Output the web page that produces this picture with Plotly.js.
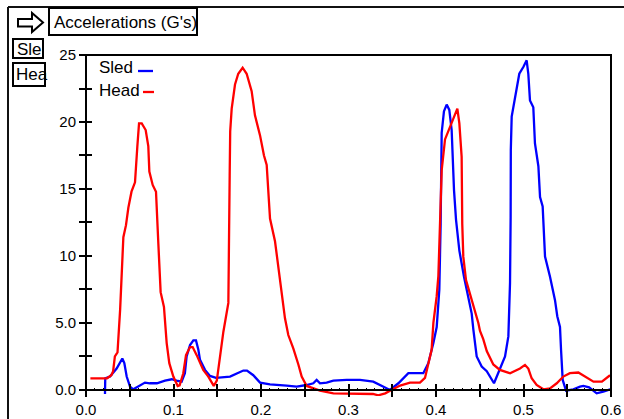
<!DOCTYPE html>
<html>
<head>
<meta charset="utf-8">
<script src="https://cdn.plot.ly/plotly-3.0.1.min.js"></script>
<style>html,body{margin:0;padding:0;background:#fff;}#chart{width:624px;height:419px;}</style>
</head>
<body>
<div id="chart"></div>
<script>
// ---- data ----
var headT = [0.005,0.024,0.029,0.031,0.033,0.036,0.039,0.0415,0.0427,0.0457,0.0484,0.052,0.056,0.0587,0.0606,0.0637,0.0682,0.0712,0.0724,0.0762,0.080,0.0827,0.0853,0.0891,0.0922,0.0952,0.0998,0.1048,0.107,0.1112,0.1143,0.1189,0.1219,0.1265,0.134,0.1398,0.146,0.1495,0.153,0.157,0.1627,0.1633,0.1638,0.1642,0.1648,0.1665,0.1703,0.174,0.179,0.1836,0.1893,0.1931,0.1989,0.2034,0.2065,0.2083,0.2103,0.216,0.2217,0.2274,0.2312,0.2369,0.2427,0.2465,0.2522,0.2674,0.2827,0.309,0.328,0.334,0.342,0.349,0.359,0.3703,0.3817,0.3874,0.391,0.395,0.397,0.4008,0.4027,0.4046,0.4065,0.4103,0.416,0.4217,0.4244,0.4267,0.4293,0.430,0.4312,0.4343,0.4389,0.4446,0.4484,0.4503,0.454,0.458,0.4655,0.473,0.4846,0.496,0.5017,0.5055,0.5093,0.515,0.5227,0.5303,0.538,0.5455,0.553,0.5627,0.5703,0.58,0.5896,0.5989];
var headG = [0.87,0.87,1.1,1.4,2.5,2.8,6.0,9.7,11.4,12.3,13.6,14.8,15.5,18.2,19.9,19.9,19.4,18.2,16.3,15.3,14.8,10.9,7.3,6.2,3.5,2.0,1.0,0.3,0.35,1.25,2.6,3.2,3.2,2.6,1.5,1.0,0.3,0.7,2.6,4.35,6.5,9.0,12.5,16.0,19.3,21.0,22.8,23.6,24.05,23.6,22.3,20.5,19.0,17.5,16.8,15.05,12.8,11.1,8.1,5.35,4.1,3.1,1.9,1.0,0.3,-0.05,-0.25,-0.3,-0.3,-0.4,-0.25,0.0,0.33,0.55,0.55,0.9,1.9,3.0,5.0,7.0,8.5,12.4,16.4,18.7,19.65,20.5,21.0,19.9,17.4,12.4,9.95,8.2,7.2,6.0,5.0,4.4,3.8,2.9,1.9,1.5,1.25,1.6,1.87,1.6,0.87,0.37,0.05,0.12,0.5,1.0,1.25,1.3,1.0,0.62,0.62,1.1];

var sledT = [0.0217,0.022,0.0274,0.035,0.0415,0.0438,0.0465,0.0503,0.054,0.0598,0.0674,0.073,0.081,0.0903,0.098,0.1036,0.1093,0.113,0.115,0.1189,0.1227,0.1257,0.1284,0.1303,0.136,0.1417,0.1486,0.1646,0.1798,0.184,0.1912,0.1989,0.2103,0.2293,0.2408,0.2522,0.2598,0.2636,0.2674,0.275,0.2827,0.2979,0.3131,0.3283,0.3398,0.3474,0.357,0.3627,0.3684,0.3855,0.3912,0.397,0.4008,0.4038,0.4053,0.4065,0.4091,0.4122,0.4152,0.4179,0.4206,0.4229,0.4267,0.432,0.437,0.4408,0.4427,0.4465,0.4522,0.458,0.4663,0.473,0.4789,0.4827,0.4846,0.4853,0.4855,0.4865,0.4903,0.4952,0.4998,0.5036,0.5055,0.5074,0.5112,0.5131,0.517,0.5189,0.5219,0.5246,0.5303,0.536,0.5386,0.5417,0.5429,0.5448,0.5486,0.557,0.5646,0.5684,0.575,0.5836,0.5912,0.5989,0.606];
var sledG = [-0.3,0.87,1.0,1.6,2.35,2.0,1.0,0.25,0.05,0.25,0.55,0.5,0.5,0.7,0.8,0.7,0.62,1.25,2.5,3.35,3.7,3.7,3.0,2.25,1.5,1.05,0.9,1.0,1.45,1.45,1.1,0.55,0.42,0.33,0.25,0.37,0.5,0.75,0.5,0.55,0.7,0.75,0.75,0.62,0.25,0.0,0.5,0.87,1.25,1.25,2.0,3.5,4.7,7.5,12.4,19.2,20.8,21.3,20.9,19.4,14.9,12.7,10.4,8.45,7.0,5.7,4.5,2.5,1.75,1.4,0.5,1.5,2.5,4.0,8.0,12.9,17.9,20.4,21.9,23.6,24.1,24.6,23.6,21.6,21.1,18.4,16.7,14.4,13.7,9.95,8.45,6.7,5.5,4.7,3.0,0.75,-0.05,0.05,0.25,0.3,0.2,-0.25,-0.12,0.05,0.12];

var xTickVals = [0,0.1,0.2,0.3,0.4,0.5,0.6];
var xTickText = ["0.0","0.1","0.2","0.3","0.4","0.5","0.6"];
var yTickVals = [0,5,10,15,20,25];
var yTickText = ["0.0","5.0","10","15","20","25"];
var seriesNames = ["Sled","Head"];
var chartTitle = "Accelerations (G's)";
var sideLabels = ["Sle","Hea"];

// ---- geometry helpers (pixel -> paper) ----
var L = 86, R = 13, T = 55, B = 23, W = 624, H = 419;
var PW = W - L - R, PH = H - T - B;
function X(px){ return (px - L) / PW; }
function Y(py){ return (H - B - py) / PH; }
var yMin = -0.45, yMax = 25;
var zeroPos = (0 - yMin) / (yMax - yMin);

var FONT = "Liberation Sans, Arial, sans-serif";
var BLUE = '#0000ff', RED = '#ff0000';

var traces = [
  {x: sledT, y: sledG, type: 'scatter', mode: 'lines', name: seriesNames[0],
   line: {color: BLUE, width: 2.3}},
  {x: headT, y: headG, type: 'scatter', mode: 'lines', name: seriesNames[1],
   line: {color: RED, width: 2.3}},
  {x: [], y: [], xaxis: 'x2', yaxis: 'y2', type: 'scatter', mode: 'lines',
   showlegend: false, hoverinfo: 'skip'}
];

var tickCommon = {tickcolor: '#000', tickwidth: 2, showgrid: false, zeroline: false, showline: false};

var layout = {
  width: W, height: H,
  margin: {l: L, r: R, t: T, b: B, pad: 0},
  paper_bgcolor: '#fff', plot_bgcolor: '#fff',
  showlegend: false,
  font: {family: FONT, size: 15, color: '#000'},
  xaxis: Object.assign({}, tickCommon, {
    range: [0, 0.6], anchor: 'free', position: zeroPos,
    tickmode: 'array', tickvals: xTickVals, ticktext: xTickText,
    ticks: 'outside', ticklen: 6,
    tickfont: {family: FONT, size: 15, color: '#000'},
    minor: {tickmode: 'linear', tick0: 0, dtick: 0.05, ticks: 'outside', ticklen: 6, tickwidth: 2, tickcolor: '#000'}
  }),
  xaxis2: Object.assign({}, tickCommon, {
    range: [0, 0.6], overlaying: 'x', anchor: 'free', position: zeroPos,
    tickmode: 'linear', tick0: 0, dtick: 0.05, ticks: 'inside', ticklen: 6,
    showticklabels: false,
    minor: {tickmode: 'linear', tick0: 0, dtick: 0.01, ticks: 'inside', ticklen: 2, tickwidth: 1, tickcolor: '#000'}
  }),
  yaxis: Object.assign({}, tickCommon, {
    range: [yMin, yMax],
    tickmode: 'array', tickvals: yTickVals, ticktext: yTickText,
    ticks: 'outside', ticklen: 6,
    tickfont: {family: FONT, size: 15, color: '#000'},
    minor: {tickmode: 'linear', tick0: 0, dtick: 2.5, ticks: 'outside', ticklen: 6, tickwidth: 2, tickcolor: '#000'}
  }),
  yaxis2: Object.assign({}, tickCommon, {
    range: [yMin, yMax], overlaying: 'y', anchor: 'x', side: 'left',
    tickmode: 'array', tickvals: yTickVals, ticks: 'inside', ticklen: 6,
    showticklabels: false,
    minor: {tickmode: 'linear', tick0: 0, dtick: 2.5, ticks: 'inside', ticklen: 6, tickwidth: 2, tickcolor: '#000'}
  }),
  shapes: [
    // plot frame
    {type: 'rect', xref: 'paper', yref: 'paper', x0: 0, x1: 1, y0: zeroPos, y1: 1,
     line: {color: '#000', width: 2}},
    // outer window frame
    {type: 'line', xref: 'paper', yref: 'paper', x0: X(8), x1: X(8), y0: Y(7), y1: Y(425), line: {color: '#111', width: 2}},
    {type: 'line', xref: 'paper', yref: 'paper', x0: X(8), x1: X(630), y0: Y(7), y1: Y(7), line: {color: '#111', width: 2}},
    // title box
    {type: 'rect', xref: 'paper', yref: 'paper', x0: X(49), x1: X(197), y0: Y(35), y1: Y(8), line: {color: '#000', width: 2}},
    // side boxes
    {type: 'rect', xref: 'paper', yref: 'paper', x0: X(13), x1: X(43), y0: Y(58), y1: Y(39), line: {color: '#000', width: 2}},
    {type: 'rect', xref: 'paper', yref: 'paper', x0: X(13), x1: X(45), y0: Y(86), y1: Y(63), line: {color: '#000', width: 2}},
    // arrow icon
    {type: 'path', xref: 'paper', yref: 'paper',
     path: 'M ' + X(18) + ',' + Y(19) + ' L ' + X(32) + ',' + Y(19) + ' L ' + X(32) + ',' + Y(13) +
           ' L ' + X(43) + ',' + Y(22.5) + ' L ' + X(32) + ',' + Y(32) + ' L ' + X(32) + ',' + Y(26.5) +
           ' L ' + X(18) + ',' + Y(26.5) + ' Z',
     line: {color: '#000', width: 2}},
    // legend samples
    {type: 'line', xref: 'paper', yref: 'paper', x0: X(138), x1: X(153), y0: Y(71), y1: Y(71), line: {color: BLUE, width: 2.3}},
    {type: 'line', xref: 'paper', yref: 'paper', x0: X(143), x1: X(154), y0: Y(92), y1: Y(92), line: {color: RED, width: 2.3}}
  ],
  annotations: [
    {text: chartTitle, xref: 'paper', yref: 'paper', x: X(52), y: Y(22), xanchor: 'left', yanchor: 'middle',
     showarrow: false, font: {family: FONT, size: 17, color: '#000'}},
    {text: sideLabels[0], xref: 'paper', yref: 'paper', x: X(15), y: Y(49), xanchor: 'left', yanchor: 'middle',
     showarrow: false, font: {family: FONT, size: 17, color: '#000'}},
    {text: sideLabels[1], xref: 'paper', yref: 'paper', x: X(14), y: Y(75), xanchor: 'left', yanchor: 'middle',
     showarrow: false, font: {family: FONT, size: 17, color: '#000'}},
    {text: seriesNames[0], xref: 'paper', yref: 'paper', x: X(97), y: Y(68), xanchor: 'left', yanchor: 'middle',
     showarrow: false, font: {family: FONT, size: 17, color: '#000'}},
    {text: seriesNames[1], xref: 'paper', yref: 'paper', x: X(97), y: Y(90), xanchor: 'left', yanchor: 'middle',
     showarrow: false, font: {family: FONT, size: 17, color: '#000'}}
  ]
};

Plotly.newPlot('chart', traces, layout, {displayModeBar: false, staticPlot: true});
</script>
</body>
</html>
